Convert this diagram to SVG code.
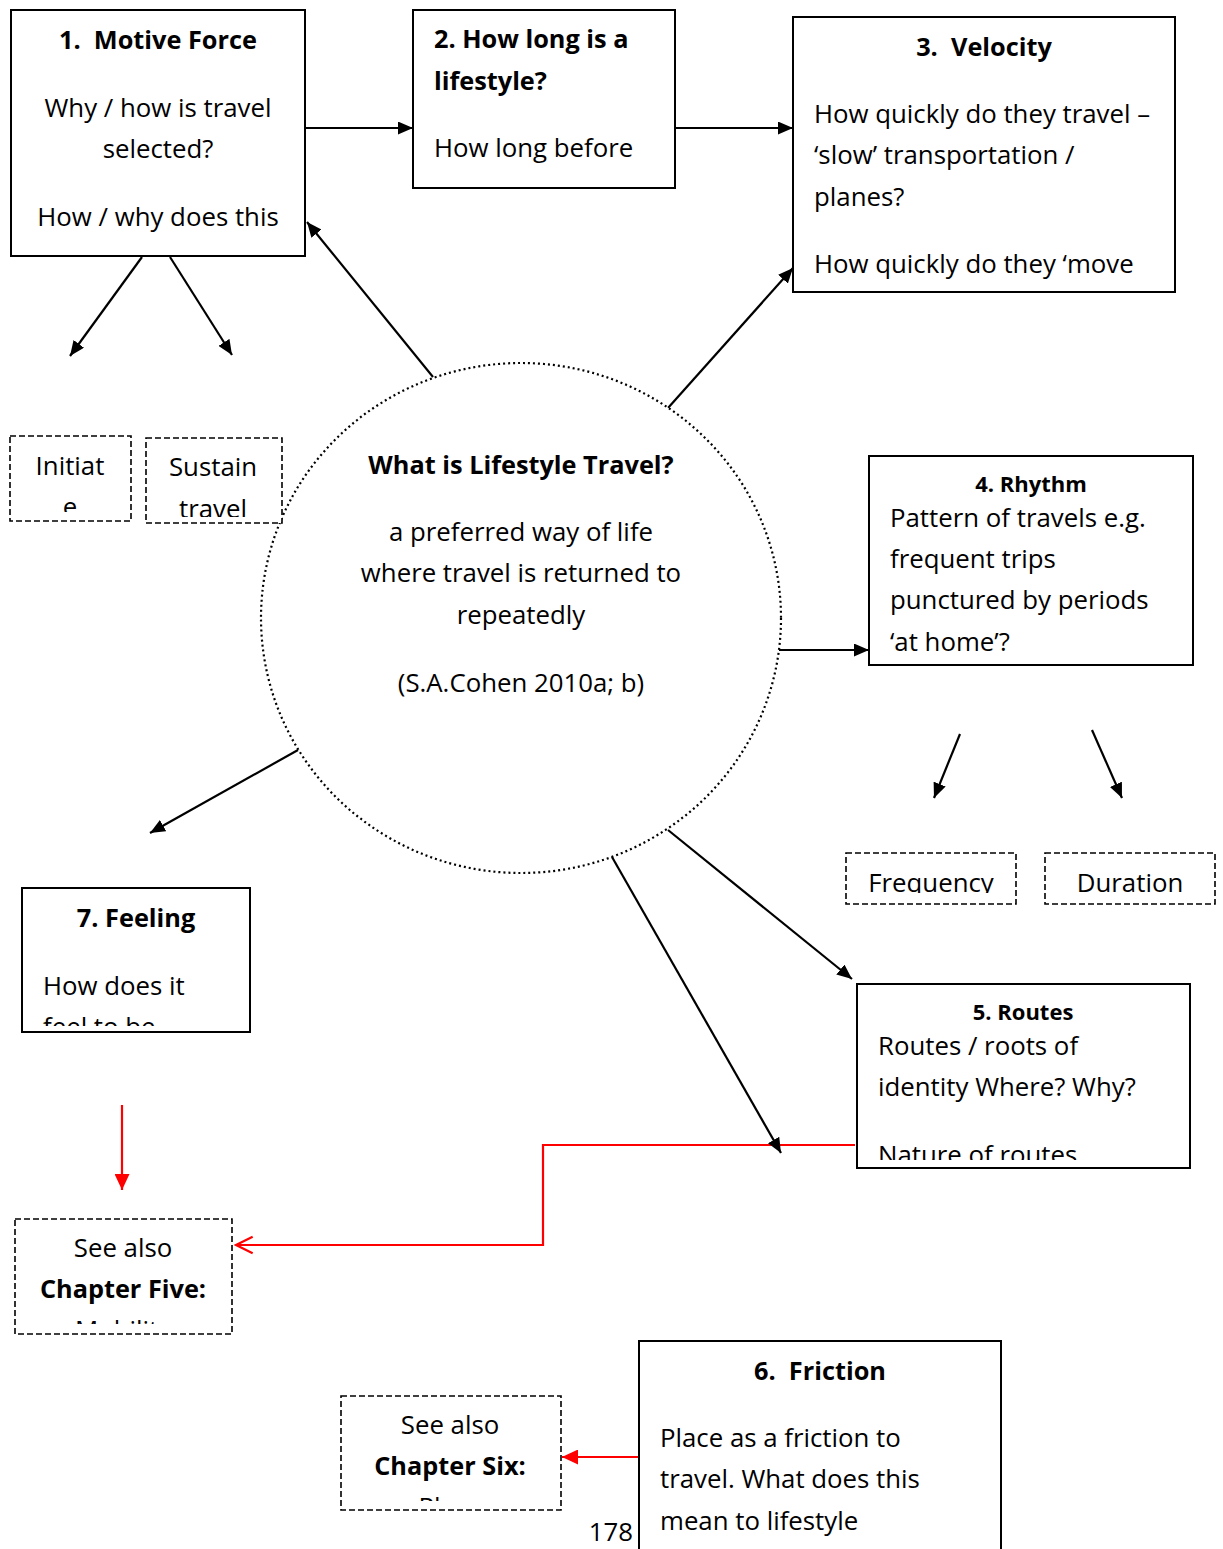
<svg xmlns="http://www.w3.org/2000/svg" width="1223" height="1549" viewBox="0 0 1223 1549">
  <style>
    text { font-family: "Open Sans", Lato, "Liberation Sans", sans-serif; font-size: 25.8px; fill: #000; }
    .b { font-weight: bold; font-size: 25.3px; }
    .c { text-anchor: middle; }
    .sm { font-size: 22px; }
    .box { fill: #fff; stroke: #000; stroke-width: 2; }
    .dash { fill: #fff; stroke: #000; stroke-width: 1.6; stroke-dasharray: 6 3; }
    .hub { fill: #fff; stroke: #000; stroke-width: 2.2; stroke-dasharray: 2 3; }
    .ln { fill: none; stroke: #000; stroke-width: 2.2; }
    .red { fill: none; stroke: #f00; stroke-width: 2.2; }
  </style>
  <defs>
    <marker id="ah" viewBox="0 0 10 10" refX="10" refY="5" markerWidth="15" markerHeight="13" markerUnits="userSpaceOnUse" orient="auto" preserveAspectRatio="none">
      <path d="M0,0 L10,5 L0,10 z" fill="#000"/>
    </marker>
    <marker id="ahr" viewBox="0 0 10 10" refX="10" refY="5" markerWidth="16" markerHeight="15" markerUnits="userSpaceOnUse" orient="auto" preserveAspectRatio="none">
      <path d="M0,0 L10,5 L0,10 z" fill="#f00"/>
    </marker>
    <marker id="ahro" viewBox="0 0 12 12" refX="11" refY="6" markerWidth="20" markerHeight="20" markerUnits="userSpaceOnUse" orient="auto">
      <path d="M1,1 L11,6 L1,11" fill="none" stroke="#f00" stroke-width="1.3"/>
    </marker>
    <clipPath id="k1"><rect x="12" y="11" width="292" height="244"/></clipPath>
    <clipPath id="k2"><rect x="414" y="11" width="260" height="176"/></clipPath>
    <clipPath id="k3"><rect x="794" y="18" width="380" height="273"/></clipPath>
    <clipPath id="k4"><rect x="870" y="457" width="322" height="207"/></clipPath>
    <clipPath id="k5"><rect x="858" y="985" width="331" height="175"/></clipPath>
    <clipPath id="k7"><rect x="23" y="889" width="226" height="137"/></clipPath>
    <clipPath id="kI"><rect x="11" y="437" width="119" height="75"/></clipPath>
    <clipPath id="kS"><rect x="147" y="439" width="134" height="78"/></clipPath>
    <clipPath id="kF"><rect x="847" y="854" width="168" height="39"/></clipPath>
    <clipPath id="kD"><rect x="1046" y="854" width="168" height="39"/></clipPath>
    <clipPath id="kC5"><rect x="16" y="1220" width="215" height="104"/></clipPath>
    <clipPath id="kC6"><rect x="342" y="1397" width="218" height="104"/></clipPath>
  </defs>

  <rect width="1223" height="1549" fill="#fff"/>

  <!-- connectors -->
  <g id="connectors">
    <line class="ln" x1="305" y1="128" x2="413" y2="128" marker-end="url(#ah)"/>
    <line class="ln" x1="675" y1="128" x2="793" y2="128" marker-end="url(#ah)"/>
    <line class="ln" x1="142" y1="257" x2="70" y2="356" marker-end="url(#ah)"/>
    <line class="ln" x1="170" y1="257" x2="232" y2="355" marker-end="url(#ah)"/>
    <line class="ln" x1="433" y1="377" x2="307" y2="222" marker-end="url(#ah)"/>
    <line class="ln" x1="668" y1="408" x2="793" y2="268" marker-end="url(#ah)"/>
    <line class="ln" x1="779" y1="650" x2="869" y2="650" marker-end="url(#ah)"/>
    <line class="ln" x1="960" y1="734" x2="934" y2="798" marker-end="url(#ah)"/>
    <line class="ln" x1="1092" y1="730" x2="1122" y2="798" marker-end="url(#ah)"/>
    <line class="ln" x1="298" y1="750" x2="150" y2="833" marker-end="url(#ah)"/>
    <line class="ln" x1="668" y1="830" x2="852" y2="979" marker-end="url(#ah)"/>
    <line class="red" x1="122" y1="1105" x2="122" y2="1190" marker-end="url(#ahr)"/>
    <polyline class="red" points="855,1145 543,1145 543,1245 236,1245" marker-end="url(#ahro)"/>
    <line class="ln" x1="612" y1="857" x2="781" y2="1153" marker-end="url(#ah)"/>
    <line class="red" x1="639" y1="1457" x2="562" y2="1457" marker-end="url(#ahr)"/>
  </g>

  <!-- centre -->
  <g id="hub">
    <ellipse class="hub" cx="521" cy="618" rx="260" ry="255"/>
    <text class="b c" x="521" y="474">What is Lifestyle Travel?</text>
    <text class="c" x="521" y="541">a preferred way of life</text>
    <text class="c" x="521" y="582">where travel is returned to</text>
    <text class="c" x="521" y="624">repeatedly</text>
    <text class="c" x="521" y="692">(S.A.Cohen 2010a; b)</text>
  </g>

  <g id="motive-force">
    <rect class="box" x="11" y="10" width="294" height="246"/>
    <g clip-path="url(#k1)">
      <text class="b c" x="158" y="49">1.&#160; Motive Force</text>
      <text class="c" x="158" y="117">Why / how is travel</text>
      <text class="c" x="158" y="158">selected?</text>
      <text class="c" x="158" y="226">How / why does this</text>
    </g>
  </g>

  <g id="how-long">
    <rect class="box" x="413" y="10" width="262" height="178"/>
    <g clip-path="url(#k2)">
      <text class="b" x="434" y="48">2. How long is a</text>
      <text class="b" x="434" y="90">lifestyle?</text>
      <text x="434" y="157">How long before</text>
    </g>
  </g>

  <g id="velocity">
    <rect class="box" x="793" y="17" width="382" height="275"/>
    <g clip-path="url(#k3)">
      <text class="b c" x="984" y="56">3.&#160; Velocity</text>
      <text x="814" y="123">How quickly do they travel –</text>
      <text x="814" y="164">‘slow’ transportation /</text>
      <text x="814" y="206">planes?</text>
      <text x="814" y="273">How quickly do they ‘move</text>
    </g>
  </g>

  <g id="rhythm">
    <rect class="box" x="869" y="456" width="324" height="209"/>
    <g clip-path="url(#k4)">
      <text class="b c sm" x="1031" y="492">4. Rhythm</text>
      <text x="890" y="527">Pattern of travels e.g.</text>
      <text x="890" y="568">frequent trips</text>
      <text x="890" y="609">punctured by periods</text>
      <text x="890" y="651">‘at home’?</text>
    </g>
  </g>

  <g id="routes">
    <rect class="box" x="857" y="984" width="333" height="184"/>
    <g clip-path="url(#k5)">
      <text class="b c sm" x="1023" y="1020">5. Routes</text>
      <text x="878" y="1055">Routes / roots of</text>
      <text x="878" y="1096">identity Where? Why?</text>
      <text x="878" y="1164">Nature of routes</text>
    </g>
  </g>

  <g id="friction">
    <rect class="box" x="639" y="1341" width="362" height="230"/>
    <text class="b c" x="820" y="1380">6.&#160; Friction</text>
    <text x="660" y="1447">Place as a friction to</text>
    <text x="660" y="1488">travel. What does this</text>
    <text x="660" y="1530">mean to lifestyle</text>
  </g>

  <g id="feeling">
    <rect class="box" x="22" y="888" width="228" height="144"/>
    <g clip-path="url(#k7)">
      <text class="b c" x="136" y="927">7. Feeling</text>
      <text x="43" y="995">How does it</text>
      <text x="43" y="1036">feel to be</text>
    </g>
  </g>

  <g id="initiate">
    <rect class="dash" x="10" y="436" width="121" height="85"/>
    <g clip-path="url(#kI)">
      <text class="c" x="70" y="475">Initiat</text>
      <text class="c" x="70" y="516">e</text>
    </g>
  </g>

  <g id="sustain">
    <rect class="dash" x="146" y="438" width="136" height="85"/>
    <g clip-path="url(#kS)">
      <text class="c" x="213" y="476">Sustain</text>
      <text class="c" x="213" y="518">travel</text>
    </g>
  </g>

  <g id="frequency">
    <rect class="dash" x="846" y="853" width="170" height="51"/>
    <g clip-path="url(#kF)">
      <text class="c" x="931" y="892">Frequency</text>
    </g>
  </g>

  <g id="duration">
    <rect class="dash" x="1045" y="853" width="170" height="51"/>
    <g clip-path="url(#kD)">
      <text class="c" x="1130" y="892">Duration</text>
    </g>
  </g>

  <g id="see-chapter-five">
    <rect class="dash" x="15" y="1219" width="217" height="115"/>
    <g clip-path="url(#kC5)">
      <text class="c" x="123" y="1257">See also</text>
      <text class="b c" x="123" y="1298">Chapter Five:</text>
      <text class="c" x="123" y="1339">Mobility</text>
    </g>
  </g>

  <g id="see-chapter-six">
    <rect class="dash" x="341" y="1396" width="220" height="114"/>
    <g clip-path="url(#kC6)">
      <text class="c" x="450" y="1434">See also</text>
      <text class="b c" x="450" y="1475">Chapter Six:</text>
      <text class="c" x="450" y="1516">Place</text>
    </g>
  </g>

  <g id="page-number">
    <text class="c" x="611" y="1541">178</text>
  </g>
</svg>
